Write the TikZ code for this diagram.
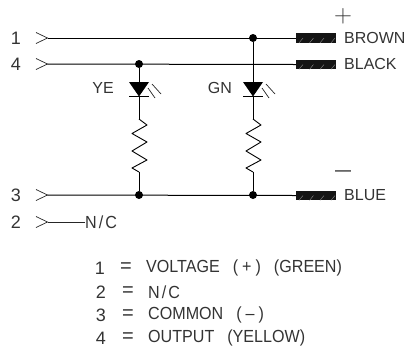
\documentclass[tikz,border=0pt]{standalone}
\usepackage{fontspec}
\setmainfont{Liberation Sans}
\newfontfamily\legfont[FakeStretch=0.92]{Liberation Sans}
\tikzset{
  wire/.style={line width=1pt},
  dot/.style={circle, fill=black, inner sep=0pt, minimum size=8pt},
  stub/.style={rectangle, fill=black!92, inner sep=0pt, minimum width=40pt, minimum height=9.5pt},
  txt/.style={inner sep=0pt, font=\fontsize{16}{16}\selectfont, text=black!80},
  num/.style={txt, font=\fontsize{18}{18}\selectfont},
  leg/.style={txt, anchor=west, font=\legfont\fontsize{17.5}{17.5}\selectfont},
  eqs/.style={txt, font=\fontsize{20}{20}\selectfont},
  pin/.style={line width=0.7pt, black!85}
}
\begin{document}
\begin{tikzpicture}[x=1pt, y=-1pt]
\useasboundingbox (0,0) rectangle (409,349);
% pins
\foreach \n/\y/\l in {a/38/1, d/64/4, c/195/3, b/222/2} {
  \node[num] (lab\n) at (16,\y) {\l};
  \coordinate (pin\n) at (47.5,\y);
  \draw[pin] (36,\y-5.5) -- (pin\n) -- (36,\y+5.5);
}
% cable ends
\node[stub] (brown) at (316,38) {};
\node[stub] (black) at (316,64.5) {};
\node[stub] (blue) at (316,195.5) {};
\foreach \n in {brown,black,blue} {
  \foreach \dx in {-17,-6.5,4,15}
    \draw[black!45, line width=0.4pt] ([xshift=\dx pt]\n.south) -- ([xshift=\dx pt+4pt]\n.center);
}
\node[txt, anchor=west] (brownlab) at (344,38) {BROWN};
\node[txt, anchor=west] (blacklab) at (344,64) {BLACK};
\node[txt, anchor=west] (bluelab) at (344,195) {BLUE};
\node[txt, font=\fontsize{24}{24}\selectfont] (plus) at (343,16) {$+$};
\node[txt, text=black] (minus) at (343,173) {—};
% junctions
\node[dot] (j1) at (253,38) {};
\node[dot] (j2) at (139,64) {};
\node[dot] (j3) at (139,195) {};
\node[dot] (j4) at (253,195) {};
% wires
\draw[wire] (pina) -- (brown.west);
\draw[wire] (pind) -- (black.west);
\draw[wire] (pinc) -- (blue.west);
\node[leg] (nc) at (85,222) {N\hspace{2pt}/\hspace{2pt}C};
\draw[pin] (pinb) -- (nc.west);
% leds and resistors
\foreach \n/\x/\s/\l/\lx in {ye/139/j2/YE/114, gn/253/j1/GN/232} {
  \coordinate (\n top) at (\x,82);
  \coordinate (\n tip) at (\x,96.5);
  \coordinate (\n res) at (\x,119);
  \coordinate (\n end) at (\x,172);
  \node[txt, anchor=east] (\n lab) at (\lx,88) {\l};
  \draw[wire] (\s) -- (\n top);
  \fill (\x-10,82) -- (\x+10,82) -- (\n tip) -- cycle;
  \draw[wire] (\x-10,96.5) -- (\x+10,96.5);
  \draw[wire] (\n tip) -- (\n res);
  \draw[pin] (\x+9,88) -- (\x+16,98);
  \draw[pin] (\x+13,84) -- (\x+22,94);
  \draw[line width=0.9pt, line join=round] (\n res) -- (\x+8,125) -- (\x-7,133.5) -- (\x+8,142)
    -- (\x-7,151) -- (\x+8,160) -- (\x-7,168) -- (\n end);
}
\draw[wire] (yeend) -- (j3);
\draw[wire] (gnend) -- (j4);
% legend
\node[num] (n1) at (100,268) {1};
\node[num] (n2) at (101,292) {2};
\node[num] (n3) at (101,315) {3};
\node[num] (n4) at (101,338) {4};
\node[eqs] (e1) at (126,268) {=};
\node[eqs] (e2) at (128,292) {=};
\node[eqs] (e3) at (128,315) {=};
\node[eqs] (e4) at (128,338) {=};
\node[leg] (t1) at (146,268) {VOLTAGE\hspace{13pt}(\hspace{4pt}+\hspace{4pt})\hspace{13pt}(GREEN)};
\node[leg] (t2) at (148,292) {N\hspace{2pt}/\hspace{2pt}C};
\node[leg] (t3) at (148,315) {COMMON\hspace{13pt}(\hspace{4pt}–\hspace{4pt})};
\node[leg] (t4) at (148,338) {OUTPUT\hspace{13pt}(YELLOW)};
\end{tikzpicture}
\end{document}
